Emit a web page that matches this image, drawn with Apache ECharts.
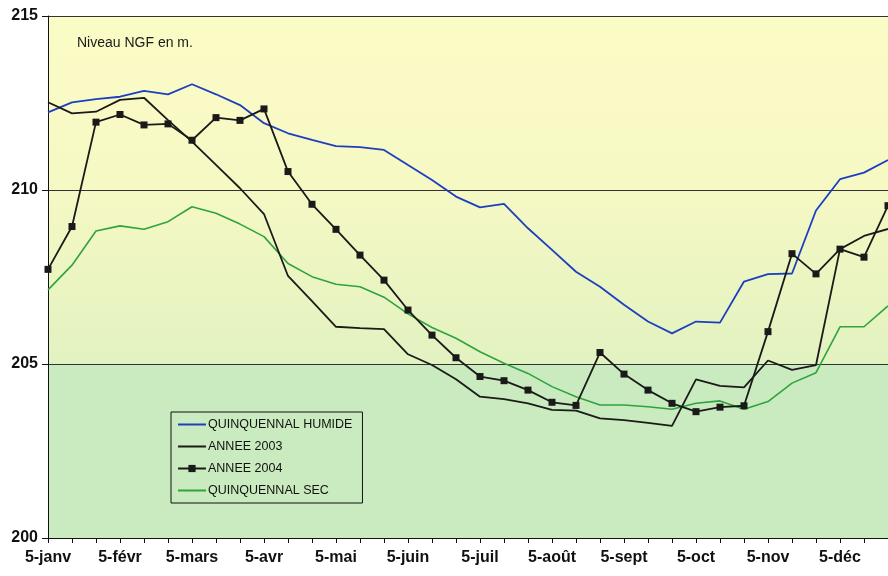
<!DOCTYPE html>
<html>
<head>
<meta charset="utf-8">
<script src="https://cdn.jsdelivr.net/npm/echarts@6/dist/echarts.min.js"></script>
<style>
html,body{margin:0;padding:0;background:#fff;}
#chart{width:888px;height:576px;}
</style>
</head>
<body>
<div id="chart"></div>
<script>
var months = ['janv','févr','mars','avr','mai','juin','juil','août','sept','oct','nov','déc'];
var days = ['5','15','25'];
var categories = [];
months.forEach(function(m){ days.forEach(function(d){ categories.push(d + '-' + m); }); });

var yTicks = [200, 205, 210, 215];

var quinquennalHumide = [212.23, 212.52, 212.61, 212.68, 212.85, 212.75, 213.04, 212.75, 212.44, 211.92, 211.63, 211.44, 211.26, 211.23, 211.15, 210.72, 210.29, 209.81, 209.5, 209.6, 208.9, 208.28, 207.65, 207.22, 206.7, 206.22, 205.88, 206.22, 206.19, 207.37, 207.58, 207.6, 209.41, 210.31, 210.5, 210.86];

var annee2003 = [212.52, 212.2, 212.25, 212.59, 212.65, 212.01, 211.39, 210.72, 210.05, 209.31, 207.53, 206.81, 206.07, 206.03, 206.0, 205.28, 204.97, 204.56, 204.06, 203.99, 203.87, 203.68, 203.66, 203.44, 203.39, 203.31, 203.22, 204.56, 204.37, 204.33, 205.1, 204.83, 204.97, 208.3, 208.68, 208.88];

var annee2004 = [207.72, 208.95, 211.95, 212.17, 211.87, 211.9, 211.43, 212.08, 212.0, 212.33, 210.53, 209.59, 208.87, 208.13, 207.41, 206.55, 205.83, 205.18, 204.64, 204.52, 204.25, 203.9, 203.81, 205.33, 204.71, 204.25, 203.87, 203.63, 203.76, 203.8, 205.93, 208.17, 207.59, 208.3, 208.07, 209.55];

var quinquennalSec = [207.13, 207.84, 208.82, 208.97, 208.87, 209.09, 209.52, 209.33, 209.02, 208.66, 207.89, 207.51, 207.29, 207.22, 206.92, 206.44, 206.05, 205.74, 205.35, 205.02, 204.73, 204.35, 204.06, 203.82, 203.82, 203.77, 203.7, 203.87, 203.94, 203.7, 203.92, 204.45, 204.75, 206.07, 206.07, 206.67];

var chart = echarts.init(document.getElementById('chart'));
var font = 'Arial, "Liberation Sans", Helvetica, sans-serif';
var hidden = {opacity: 0};

chart.setOption({
  animation: false,
  backgroundColor: '#ffffff',
  title: {
    text: 'Niveau NGF en m.',
    left: 72, top: 31,
    textStyle: {fontFamily: font, fontSize: 14, fontWeight: 'normal', color: '#1a1a1a'}
  },
  legend: {
    orient: 'vertical',
    left: 171, top: 412,
    padding: [5, 8, 5, 6],
    itemGap: 7,
    itemWidth: 28, itemHeight: 9,
    borderColor: '#111', borderWidth: 1,
    textStyle: {fontFamily: font, fontSize: 12.5, color: '#111', lineHeight: 15, padding: [0, 2, 0, -3]},
    data: [
      {name: 'QUINQUENNAL HUMIDE', itemStyle: hidden},
      {name: 'ANNEE 2003', itemStyle: hidden},
      {name: 'ANNEE 2004'},
      {name: 'QUINQUENNAL SEC', itemStyle: hidden}
    ]
  },
  grid: {left: 48, right: -6, top: 16, bottom: 38},
  xAxis: {
    type: 'category',
    z: 2,
    data: categories,
    boundaryGap: false,
    axisLine: {lineStyle: {color: '#111', width: 1}},
    axisTick: {interval: 0, length: 5, lineStyle: {color: '#111'}},
    axisLabel: {interval: 2, margin: 12, fontFamily: font, fontSize: 16, fontWeight: 'bold', color: '#111'},
    splitLine: {show: false}
  },
  yAxis: {
    type: 'value',
    z: 2,
    min: yTicks[0], max: yTicks[yTicks.length - 1], interval: 5,
    axisLine: {show: true, lineStyle: {color: '#111', width: 1}},
    axisTick: {show: true, length: 6, lineStyle: {color: '#111'}},
    axisLabel: {margin: 10, fontFamily: font, fontSize: 16, fontWeight: 'bold', color: '#111'},
    splitLine: {show: true, lineStyle: {color: '#333', width: 1}}
  },
  series: [
    {
      name: 'fond', type: 'line', data: [], z: -1, silent: true,
      markArea: {
        silent: true,
        z: -1,
        data: [
          [{yAxis: 205, itemStyle: {color: new echarts.graphic.LinearGradient(0, 0, 0, 1, [
            {offset: 0, color: '#fbfbc6'},
            {offset: 0.45, color: '#f7f9c4'},
            {offset: 1, color: '#e2f2c1'}
          ])}}, {yAxis: 215}],
          [{yAxis: 200, itemStyle: {color: '#c9ebbf'}}, {yAxis: 205}]
        ]
      }
    },
    {
      name: 'QUINQUENNAL HUMIDE', type: 'line', data: quinquennalHumide,
      symbol: 'none', lineStyle: {color: '#1c3fbe', width: 1.8}, itemStyle: {color: '#1c3fbe'}, z: 3
    },
    {
      name: 'ANNEE 2003', type: 'line', data: annee2003,
      symbol: 'none', lineStyle: {color: '#1a1a1a', width: 1.8}, itemStyle: {color: '#1a1a1a'}, z: 4
    },
    {
      name: 'ANNEE 2004', type: 'line', data: annee2004,
      symbol: 'rect', symbolSize: 7, showAllSymbol: true,
      lineStyle: {color: '#1a1a1a', width: 1.8}, itemStyle: {color: '#1a1a1a'}, z: 5
    },
    {
      name: 'QUINQUENNAL SEC', type: 'line', data: quinquennalSec,
      symbol: 'none', lineStyle: {color: '#2fa33e', width: 1.6}, itemStyle: {color: '#2fa33e'}, z: 3
    }
  ]
});
</script>
</body>
</html>
